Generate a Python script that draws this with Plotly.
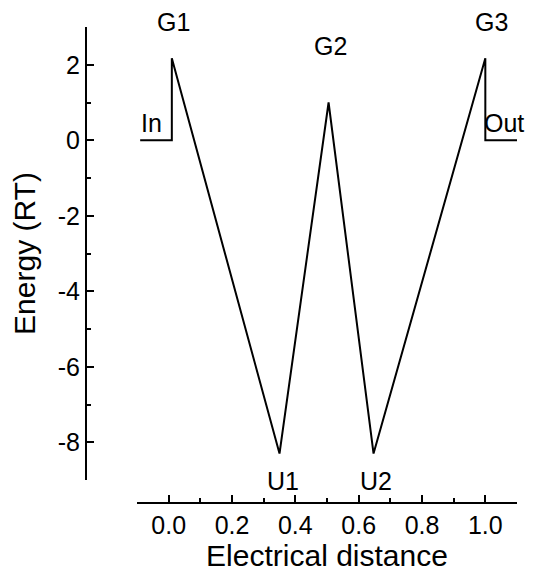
import plotly.graph_objects as go

# Energy profile (piecewise linear)
x_vals = [-0.09, 0.01, 0.01, 0.35, 0.505, 0.647, 1.0, 1.0, 1.10]
y_vals = [0.0, 0.0, 2.17, -8.3, 1.0, -8.3, 2.17, 0.0, 0.0]

label_text = ["G1", "G2", "G3", "U1", "U2", "In", "Out"]
label_x = [0.015, 0.51, 1.02, 0.36, 0.655, -0.055, 1.06]
label_y = [2.17, 1.0, 2.17, -8.3, -8.3, 0.45, 0.45]
label_shift = [36, 57, 36, -27, -27, 0, 0]

x_ticks = [0.0, 0.2, 0.4, 0.6, 0.8, 1.0]
x_ticktext = ["0.0", "0.2", "0.4", "0.6", "0.8", "1.0"]
y_ticks = [2, 0, -2, -4, -6, -8]
y_ticktext = ["2", "0", "-2", "-4", "-6", "-8"]

FONT = "Liberation Sans, Arial, sans-serif"

fig = go.Figure()
fig.add_trace(go.Scatter(x=x_vals, y=y_vals, mode="lines",
                         line=dict(color="black", width=2),
                         showlegend=False, hoverinfo="skip"))

for t, lx, ly, sh in zip(label_text, label_x, label_y, label_shift):
    fig.add_annotation(x=lx, y=ly, yshift=sh, text=t, showarrow=False,
                       font=dict(family=FONT, size=25, color="black"),
                       xref="x", yref="y")

# page body has an 8px margin: figure occupies screen pixels 8..550, 8..572
OFF = 8
W, H = 550 - OFF, 572 - OFF
ml, mr, mt, mb = 50, 12, 12, 50
pw, ph = W - ml - mr, H - mt - mb


def px_x(p):
    return (p - OFF - ml) / pw


def px_y(p):
    return (H - mb - (p - OFF)) / ph


fig.update_layout(
    width=W, height=H,
    margin=dict(l=ml, r=mr, t=mt, b=mb),
    paper_bgcolor="white", plot_bgcolor="white",
    font=dict(family=FONT, color="black"),
    xaxis=dict(
        range=[-0.1, 1.1], domain=[px_x(137), px_x(517)],
        anchor="free", position=px_y(503),
        tickvals=x_ticks, ticktext=x_ticktext,
        ticks="inside", ticklen=7, tickwidth=2, tickcolor="black",
        minor=dict(ticks="inside", ticklen=4, tickwidth=1.5, dtick=0.1, tick0=0, tickcolor="black"),
        showline=True, linecolor="black", linewidth=2,
        showgrid=False, zeroline=False,
        tickfont=dict(size=25, family=FONT),
        title=dict(text="Electrical distance", font=dict(size=30, family=FONT), standoff=0),
    ),
    yaxis=dict(
        range=[-9, 3], domain=[px_y(480), px_y(27)],
        anchor="free", position=px_x(86),
        tickvals=y_ticks, ticktext=y_ticktext,
        ticks="inside", ticklen=7, tickwidth=2, tickcolor="black",
        minor=dict(ticks="inside", ticklen=4, tickwidth=1.5, dtick=1, tick0=1, tickcolor="black"),
        showline=True, linecolor="black", linewidth=2,
        showgrid=False, zeroline=False,
        tickfont=dict(size=25, family=FONT),
        title=dict(text="Energy (RT)", font=dict(size=30, family=FONT), standoff=12),
    ),
)

fig.write_html("out.html")
